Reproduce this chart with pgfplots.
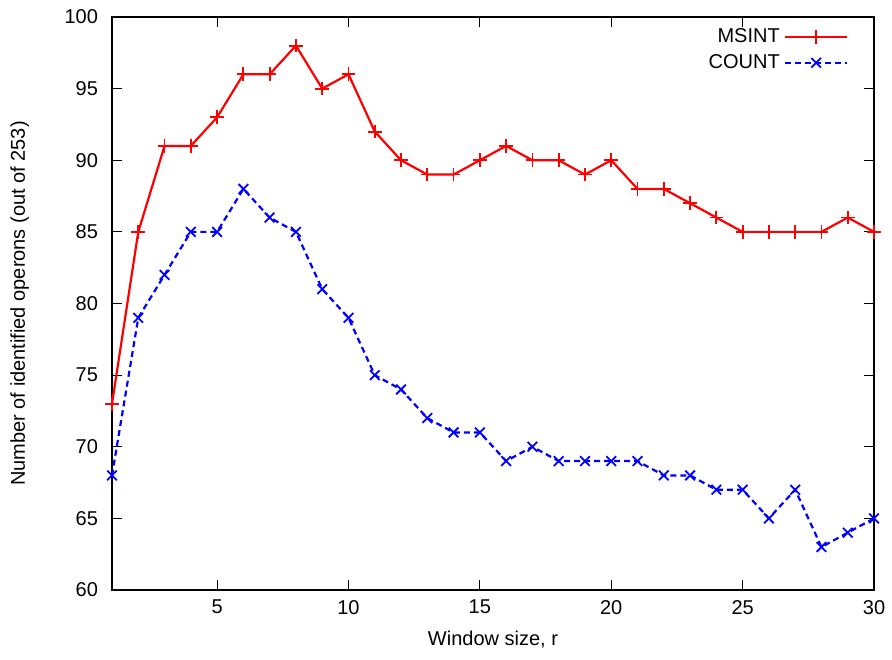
\documentclass[border=0pt]{standalone}
\usepackage{pgfplots}
\pgfplotsset{compat=1.18}
\usepackage{fontspec}
\setmainfont{Liberation Sans}
\begin{document}
\fontsize{10}{12}\selectfont
\begin{tikzpicture}
\begin{axis}[
  name=main,
  scale only axis,
  width=381pt, height=286.5pt,
  xmin=1, xmax=30, ymin=60, ymax=100,
  xtick={5,10,15,20,25,30},
  ytick={60,65,...,100},
  tick align=inside,
  major tick length=5pt,
  axis line style={line width=0.6pt},
  tick style={line width=0.6pt, black},
  xlabel={Window size, r},
  ylabel={Number of identified operons (out of 253)},
  label style={font=\fontsize{10}{12}\selectfont},
  tick label style={font=\fontsize{10}{12}\selectfont},
  yticklabel style={xshift=-3.5pt},
  xticklabel style={yshift=-1.5pt},
  /pgf/number format/assume math mode=true,
  xlabel style={at={(axis description cs:0.5,-0.087)}, anchor=center},
  ylabel style={at={(axis description cs:-0.121,0.5)}, anchor=center},
  legend style={draw=none, fill=none, at={(0.975,0.995)}, anchor=north east,
    font=\fontsize{10}{12}\selectfont, row sep=0.5pt},
  legend cell align=right,
  legend plot pos=right,
  legend image code/.code={\draw[mark repeat=2,mark phase=2] plot coordinates {(0.36cm,0cm) (0.91cm,0cm) (1.46cm,0cm)};},
]
\addplot[red, line width=1.1pt, mark=+, mark size=3.4pt, mark options={solid, line width=0.9pt}] coordinates {
(1,73)(2,85)(3,91)(4,91)(5,93)(6,96)(7,96)(8,98)(9,95)(10,96)
(11,92)(12,90)(13,89)(14,89)(15,90)(16,91)(17,90)(18,90)(19,89)(20,90)
(21,88)(22,88)(23,87)(24,86)(25,85)(26,85)(27,85)(28,85)(29,86)(30,85)};
\addlegendentry{MSINT}
\addplot[blue, line width=1.1pt, dash pattern=on 3pt off 2pt, mark=x, mark size=3.4pt, mark options={solid, line width=0.9pt}] coordinates {
(1,68)(2,79)(3,82)(4,85)(5,85)(6,88)(7,86)(8,85)(9,81)(10,79)
(11,75)(12,74)(13,72)(14,71)(15,71)(16,69)(17,70)(18,69)(19,69)(20,69)
(21,69)(22,68)(23,68)(24,67)(25,67)(26,65)(27,67)(28,63)(29,64)(30,65)};
\addlegendentry{COUNT}
\end{axis}
\path (main.south west) ++(-56pt,-34.5pt);
\path (main.north east) ++(9pt,8.5pt);
\end{tikzpicture}
\end{document}
